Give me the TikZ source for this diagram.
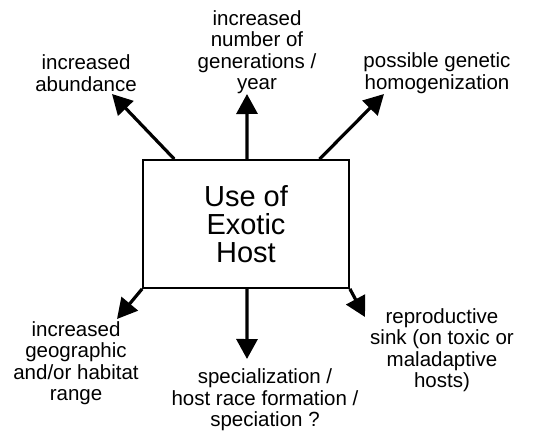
\documentclass[tikz,border=0pt]{standalone}
\usepackage{fontspec}
\setmainfont{Liberation Sans}
\usetikzlibrary{arrows.meta}
\tikzset{
  effect/.style={align=center,inner sep=0pt,font=\fontsize{20.5}{21.5}\selectfont},
  bigarrow/.style={line width=3.2pt,-{Triangle[length=20pt,width=21pt]}}
}
\begin{document}
\begin{tikzpicture}[x=1pt,y=-1pt]
\useasboundingbox (0,0) rectangle (542,431);
% central box
\node[draw,line width=1.8pt,minimum width=206pt,minimum height=128pt,align=center,
      font=\fontsize{29}{28}\selectfont] (host) at (246,224) {Use of\\Exotic\\Host};

% effects
\node[effect] (abund) at (86,73) {increased\\abundance};
\node[effect] (gener) at (257,52) {increased\\number of\\generations /\\year};
\node[effect] (homog) at (437,73) {possible genetic\\homogenization};
\node[effect] (range) at (76,363) {increased\\geographic\\and/or habitat\\range};
\node[effect] (speci) at (265,400) {specialization /\\host race formation /\\speciation ?};
\node[effect] (sink) at (442,350) {reproductive\\sink (on toxic or\\maladaptive\\hosts)};

\path (host.north west) -- (host.north east) coordinate[pos=0.155] (h1);
\path (host.north west) -- (host.north east) coordinate[pos=0.505] (h2);
\path (host.north west) -- (host.north east) coordinate[pos=0.854] (h3);
\path (host.south west) -- (host.south east) coordinate[pos=0.505] (h5);

\coordinate (t1) at (112,94);
\coordinate (t2) at (247,94);
\coordinate (t3) at (384,94);
\coordinate (t4) at (117,319);
\coordinate (t5) at (247,359);
\coordinate (t6) at (365,317);

\draw[bigarrow] (h1) -- (t1);
\draw[bigarrow] (h2) -- (t2);
\draw[bigarrow] (h3) -- (t3);
\draw[bigarrow] (host.south west) -- (t4);
\draw[bigarrow] (h5) -- (t5);
\draw[bigarrow] (host.south east) -- (t6);
\end{tikzpicture}
\end{document}
